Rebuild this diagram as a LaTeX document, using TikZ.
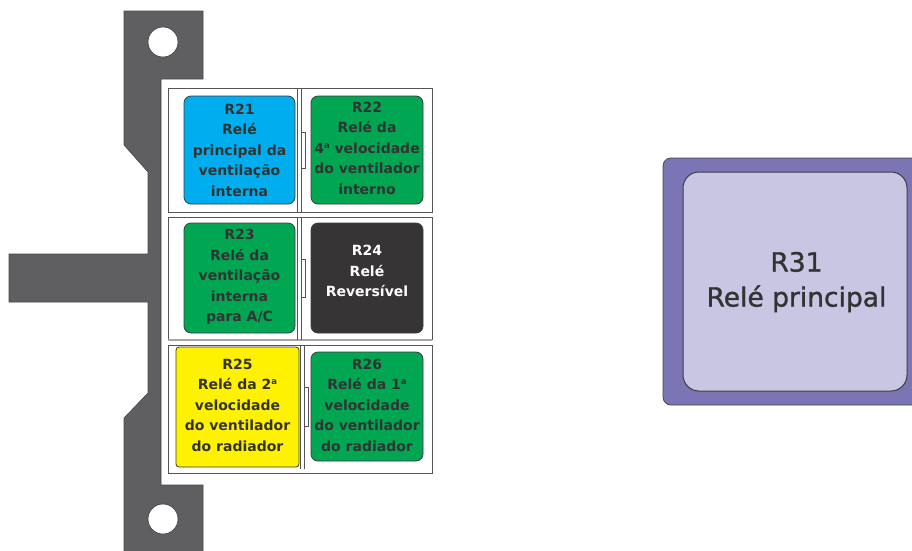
\documentclass[tikz,border=0pt]{standalone}
\usepackage{fontspec}
\setmainfont{DejaVu Sans}
\newfontfamily\rtfont[FakeBold=1.2]{DejaVu Sans}
\definecolor{bracket}{RGB}{95,95,97}
\definecolor{brackline}{RGB}{70,70,72}
\definecolor{cblue}{RGB}{0,174,239}
\definecolor{cgreen}{RGB}{0,166,81}
\definecolor{cdark}{RGB}{54,52,53}
\definecolor{cyellow}{RGB}{255,242,0}
\definecolor{cpurple}{RGB}{123,116,181}
\definecolor{clav}{RGB}{201,198,227}
\definecolor{txt}{RGB}{51,51,51}
\definecolor{boxline}{RGB}{60,60,60}
\definecolor{frameline}{RGB}{85,85,85}
\newcommand\ordA{\raisebox{0.62ex}{\fontsize{8.5}{8.5}\selectfont a}}
\begin{document}
\begin{tikzpicture}[x=1pt,y=-1pt,
  relay/.style={draw=boxline, line width=0.8pt, rounded corners=7pt, inner sep=0pt},
  reltext/.style={font=\bfseries\fontsize{14}{20.5}\selectfont, text=txt, align=center, inner sep=0pt},
  frame/.style={draw=frameline, line width=0.8pt}]
\useasboundingbox (0,0) rectangle (912,550);
\clip (0,0) rectangle (912,550);
% mounting bracket
\path[fill=bracket, draw=brackline, line width=0.6pt, even odd rule]
  (124,11) -- (203,11) -- (203,79) -- (161,79) -- (161,485) -- (203,485) -- (203,552)
  -- (124,552) -- (124,418) -- (148,393) -- (148,302) -- (9,302) -- (9,254) -- (148,254)
  -- (148,172) -- (124,145) -- cycle
  (163,42) circle[radius=15pt] (163,519) circle[radius=15pt];
% fuse box rows
\path[frame, fill=white] (168,88) rectangle (432,212);
\path[frame, fill=white] (168,217) rectangle (432,339);
\draw[draw=gray!70, line width=2pt] (168,340) -- (432,340);
\path[frame, fill=white] (168,345) rectangle (432,473);
% dividers
\draw[frame] (297.5,88) -- (297.5,212) (301,88) -- (301,212);
\draw[frame] (301,132) -- (305,132) -- (305,168) -- (301,168);
\draw[frame] (297.5,217) -- (297.5,340) (301,217) -- (301,340);
\draw[frame] (301,259) -- (305,259) -- (305,297) -- (301,297);
\draw[frame] (300,345) -- (300,469) (304,345) -- (304,469);
\draw[frame] (304,387) -- (308,387) -- (308,426) -- (304,426);
% relays
\node[relay, fill=cblue, minimum width=111pt, minimum height=108pt] (r21) at (239.5,150) {};
\node[relay, fill=cgreen, minimum width=112pt, minimum height=108pt] (r22) at (367,150) {};
\node[relay, fill=cgreen, minimum width=111pt, minimum height=110pt] (r23) at (239.5,278) {};
\node[relay, fill=cdark, minimum width=112pt, minimum height=110pt] (r24) at (367,278) {};
\node[relay, fill=cyellow, rounded corners=3pt, minimum width=123pt, minimum height=120pt] (r25) at (237.5,407) {};
\node[relay, fill=cgreen, minimum width=112pt, minimum height=109pt] (r26) at (367,406.5) {};
\node[reltext] (t21) at (239.5,150) {R21\\Relé\\principal da\\ventilação\\interna};
\node[reltext] (t22) at (367,148) {R22\\Relé da\\4\ordA{} velocidade\\do ventilador\\interno};
\node[reltext] (t23) at (239.5,277) {R23\\Relé da\\ventilação\\interna\\para A/C};
\node[reltext, text=white] (t24) at (367,271) {R24\\Relé\\Reversível};
\node[reltext] (t25) at (237.5,405) {R25\\Relé da 2\ordA\\velocidade\\do ventilador\\do radiador};
\node[reltext] (t26) at (367,405) {R26\\Relé da 1\ordA\\velocidade\\do ventilador\\do radiador};
% R31
\node[draw=brackline, line width=0.8pt, fill=cpurple, rounded corners=8pt, minimum width=267pt, minimum height=247pt, inner sep=0pt] (r31o) at (796.5,281.5) {};
\node[draw=boxline, line width=1pt, fill=clav, rounded corners=16pt, minimum width=224pt, minimum height=219pt, inner sep=0pt] (r31) at (795,281.5) {};
\node[font=\rtfont\fontsize{26.5}{35}\selectfont, text=txt, align=center, inner sep=0pt] (t31) at (796.5,282) {R31\\Relé principal};
\end{tikzpicture}
\end{document}
